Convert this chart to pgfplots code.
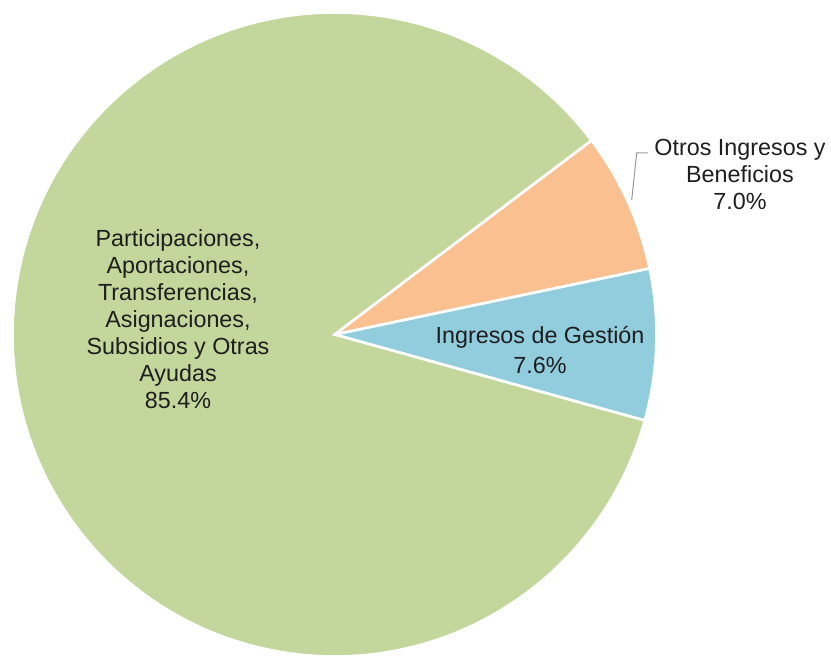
\documentclass[border=0pt]{standalone}
\usepackage{pgfplots}
\pgfplotsset{compat=1.18}
\usepackage{fontspec}
\setmainfont{Liberation Sans}
\definecolor{pgreen}{RGB}{195,214,155}
\definecolor{porange}{RGB}{250,192,144}
\definecolor{pblue}{RGB}{146,205,221}
\definecolor{ptext}{RGB}{30,30,30}
\begin{document}
\begin{tikzpicture}
% slice values (percent)
\def\vGestion{7.6}
\def\vOtros{7.0}
\def\vPart{85.4}
\pgfmathsetmacro\aA{-15.5}
\pgfmathsetmacro\aB{\aA+\vGestion*3.6}
\pgfmathsetmacro\aC{\aB+\vOtros*3.6}
\pgfmathsetmacro\aD{\aC+\vPart*3.6}
\def\R{241.5pt}
\useasboundingbox (0,0) rectangle (623.25pt,492pt);
\begin{axis}[at={(0,0)},anchor=south west,
  x=0.75pt,y=0.75pt,xmin=0,xmax=831,ymin=0,ymax=656,
  hide axis,clip=true]
\filldraw[fill=pblue,draw=white,line width=2pt] (axis cs:334.5,321.5) -- ++(\aA:\R) arc[start angle=\aA,end angle=\aB,radius=\R] -- cycle;
\filldraw[fill=porange,draw=white,line width=2pt] (axis cs:334.5,321.5) -- ++(\aB:\R) arc[start angle=\aB,end angle=\aC,radius=\R] -- cycle;
\filldraw[fill=pgreen,draw=white,line width=2pt] (axis cs:334.5,321.5) -- ++(\aC:\R) arc[start angle=\aC,end angle=\aD,radius=\R] -- cycle;
\draw[gray!80,line width=0.75pt] (axis cs:631.7,456) -- (axis cs:636.7,503) -- (axis cs:648,503);
\node[align=center,text=ptext,font=\fontsize{17.5}{20.25}\selectfont] at (axis cs:178,337)
  {Participaciones,\\Aportaciones,\\Transferencias,\\Asignaciones,\\Subsidios y Otras\\Ayudas\\85.4\%};
\node[align=center,text=ptext,font=\fontsize{17.5}{22.5}\selectfont] at (axis cs:540,306)
  {Ingresos de Gestión\\7.6\%};
\node[align=center,text=ptext,font=\fontsize{17.5}{20.25}\selectfont] at (axis cs:740,482)
  {Otros Ingresos y\\Beneficios\\7.0\%};
\end{axis}
\end{tikzpicture}
\end{document}
